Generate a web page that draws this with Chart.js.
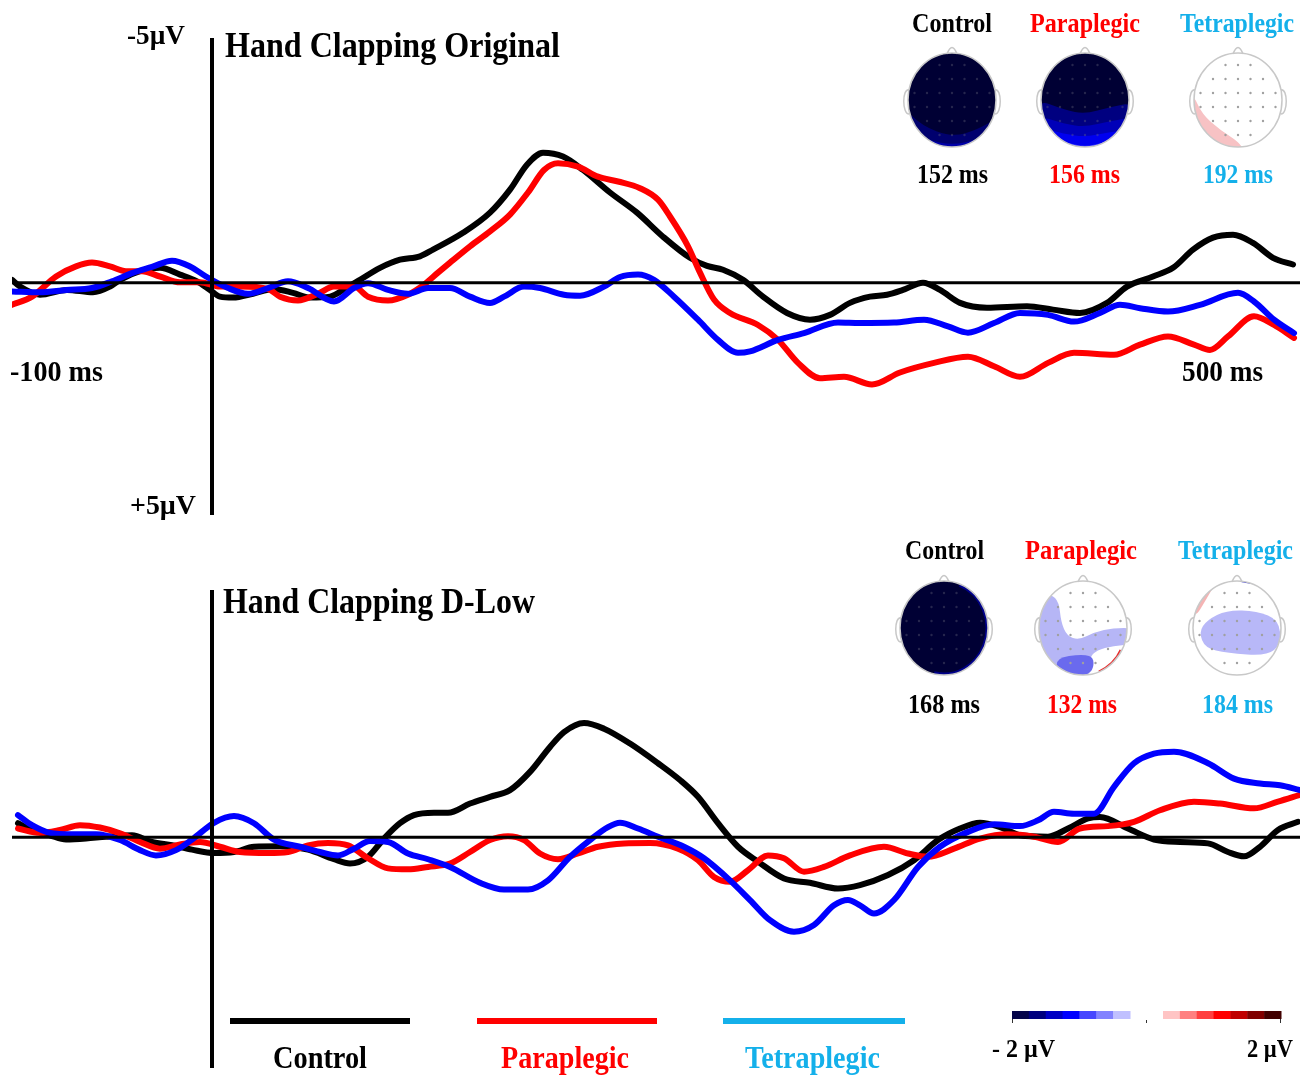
<!DOCTYPE html>
<html>
<head>
<meta charset="utf-8">
<script src="https://cdn.jsdelivr.net/npm/chart.js@4/dist/chart.umd.min.js"></script>
<style>
  body { margin: 0; background: #fff; }
  #wrap { position: relative; width: 1312px; height: 1078px; }
  canvas { position: absolute; left: 0; }
  #topChart { top: 0; }
  #bottomChart { top: 539px; }
</style>
</head>
<body>
<div id="wrap">
  <canvas id="topChart" width="1312" height="539"></canvas>
  <canvas id="bottomChart" width="1312" height="539"></canvas>
</div>
<script>
const groups = ["Control", "Paraplegic", "Tetraplegic"];
const lineColors = ["#000000", "#ff0000", "#0000ff"];
const textColors = ["#000000", "#ff0000", "#14b0ea"];
const origPeakMs = [152, 156, 192];
const lowPeakMs = [168, 132, 184];

// Hand Clapping Original (time in ms, amplitude in µV; negative is plotted up)
const origCtrlMs = [-100,-96,-86,-72.5,-59.5,-51,-46,-36,-26,-16,-7.5,-1,4,10.5,20.5,30.5,40.5,49,59,67.5,74,84,94,104,110.5,125.5,139,149,157.5,165.5,175.5,185.5,199,212.5,225.5,239,247.5,255.5,265.5,275.5,287.5,299,309,319,329,337.5,345.5,355.5,364,374,387.5,407.5,420.5,434,447.5,457.5,470.5,480.5,490.5,500.5,510.5,520.5,530.5,540.5];
const origCtrlUv = [-0.06,0.08,0.25,0.15,0.20,0.08,-0.06,-0.24,-0.31,-0.17,-0.03,0.15,0.29,0.31,0.23,0.13,0.21,0.31,0.29,0.10,-0.06,-0.31,-0.48,-0.55,-0.69,-1.04,-1.46,-1.94,-2.46,-2.71,-2.63,-2.35,-1.88,-1.46,-0.96,-0.52,-0.35,-0.27,-0.06,0.29,0.63,0.77,0.67,0.42,0.29,0.25,0.15,0.0,0.15,0.42,0.52,0.49,0.56,0.63,0.42,0.08,-0.13,-0.31,-0.69,-0.94,-1.0,-0.83,-0.52,-0.38];

const origParaMs = [-100,-90,-78,-68,-60,-51,-43,-35,-26,-16,-6,4,14,28,34,43,53,61,71,78,88,98,106,113,119,129,139,149,158,166,173,183,193,203,214,223,229,238,244,251,259,273,283,293,304,316,330,344,361,378,391,404,418,431,451,464,478,491,499,508,521,531,541];
const origParaUv = [0.46,0.29,-0.13,-0.34,-0.42,-0.34,-0.24,-0.24,-0.13,-0.01,-0.01,0.08,0.08,0.13,0.29,0.37,0.23,0.08,0.08,0.29,0.37,0.25,0.04,-0.21,-0.42,-0.76,-1.07,-1.42,-1.88,-2.35,-2.49,-2.42,-2.21,-2.11,-1.97,-1.73,-1.38,-0.76,-0.21,0.35,0.63,0.88,1.19,1.67,1.99,1.96,2.12,1.87,1.67,1.54,1.74,1.96,1.67,1.46,1.50,1.29,1.12,1.29,1.40,1.12,0.70,0.88,1.15];

const origTetraMs = [-100,-86,-73,-60,-50,-40,-30,-20,-11,-3,8,18,28,38,48,61,71,78,88,98,108,119,129,139,146,156,164,176,184,196,204,213,221,231,243,253,263,269,283,296,313,324,341,356,368,378,391,404,418,431,444,454,464,478,494,513,521,531,541];
const origTetraUv = [0.18,0.20,0.15,0.11,-0.03,-0.20,-0.33,-0.46,-0.34,-0.13,0.11,0.23,0.11,-0.03,0.11,0.39,0.11,0.01,0.15,0.23,0.11,0.11,0.29,0.42,0.29,0.08,0.11,0.25,0.27,0.08,-0.12,-0.17,-0.06,0.29,0.77,1.19,1.46,1.43,1.19,1.05,0.83,0.84,0.83,0.77,0.91,1.04,0.84,0.63,0.67,0.81,0.63,0.46,0.53,0.60,0.46,0.21,0.39,0.77,1.05];

// Hand Clapping D-Low
const lowCtrlMs = [-97,-90,-81,-73,-63,-53,-40,-30,-20,-10,1,11,21,34,48,61,69,78,86,94,101,111,118,129,139,149,159,169,176,186,196,209,223,234,243,253,263,273,286,299,313,324,338,351,363,374,384,394,404,418,428,438,444,458,471,484,498,508,516,524,533,543];
const lowCtrlUv = [-0.29,-0.15,-0.04,0.05,0.03,-0.01,-0.04,0.10,0.17,0.26,0.33,0.31,0.20,0.19,0.26,0.46,0.55,0.41,0.03,-0.29,-0.46,-0.51,-0.51,-0.70,-0.84,-0.98,-1.36,-1.88,-2.19,-2.38,-2.26,-1.95,-1.54,-1.19,-0.84,-0.29,0.20,0.51,0.86,0.95,1.07,1.0,0.79,0.48,0.06,-0.18,-0.30,-0.21,-0.04,-0.01,-0.18,-0.39,-0.42,-0.18,0.05,0.10,0.13,0.31,0.40,0.20,-0.15,-0.32];

const lowParaMs = [-97,-86,-76,-66,-56,-46,-36,-26,-16,-6,4,14,28,38,48,58,68,78,88,98,108,119,129,139,148,156,164,173,183,193,206,219,233,243,251,259,268,278,286,296,306,319,336,348,358,371,384,398,411,423,434,448,461,474,491,504,521,533,544];
const lowParaUv = [-0.18,-0.09,-0.15,-0.25,-0.20,-0.08,0.10,0.24,0.15,0.10,0.20,0.31,0.33,0.31,0.17,0.12,0.17,0.44,0.65,0.67,0.62,0.55,0.31,0.06,-0.02,0.06,0.34,0.46,0.34,0.20,0.13,0.12,0.24,0.48,0.83,0.93,0.69,0.38,0.44,0.72,0.62,0.38,0.20,0.34,0.41,0.24,0.03,-0.06,-0.01,0.10,-0.18,-0.23,-0.32,-0.56,-0.74,-0.70,-0.60,-0.74,-0.88];

const lowTetraMs = [-97,-90,-81,-70,-58,-46,-36,-28,-18,-10,1,11,21,31,44,54,63,71,79,88,98,108,119,134,146,158,168,179,189,198,204,213,223,236,246,259,269,279,291,301,311,318,324,331,341,353,364,378,391,404,413,421,431,441,451,461,471,481,498,511,524,534,544];
const lowTetraUv = [-0.46,-0.25,-0.09,-0.06,-0.06,0.06,0.27,0.38,0.27,0.05,-0.30,-0.44,-0.29,0.05,0.20,0.31,0.38,0.24,0.08,0.10,0.34,0.46,0.62,0.95,1.09,1.09,0.90,0.41,0.06,-0.21,-0.30,-0.18,-0.01,0.20,0.44,0.90,1.31,1.73,1.97,1.83,1.42,1.31,1.42,1.59,1.31,0.62,0.20,-0.11,-0.27,-0.23,-0.35,-0.53,-0.49,-0.49,-1.05,-1.54,-1.74,-1.78,-1.54,-1.22,-1.12,-1.08,-0.98];

const scaleLabels = ["- 2 µV", "2 µV"];
const blueSteps = ["#05054a", "#00007e", "#0000c4", "#0000ff", "#4646ff", "#8282ff", "#c0c0ff"];
const redSteps = ["#ffc4c4", "#ff8080", "#ff4040", "#ff0000", "#c00000", "#800000", "#420000"];

const FONT = '"Liberation Serif", "Times New Roman", serif';
const RX = 44, RY = 47;

function pts(ms, uv) {
  return ms.map((t, i) => ({ x: t, y: uv[i] }));
}

// bold serif text squeezed to fit between left and right, on a given baseline
function fitText(ctx, str, left, right, base, size, color) {
  ctx.save();
  ctx.font = `bold ${size}px ${FONT}`;
  const w = ctx.measureText(str).width;
  ctx.translate(left, base);
  ctx.scale((right - left) / w, 1);
  ctx.fillStyle = color;
  ctx.textBaseline = "alphabetic";
  ctx.textAlign = "left";
  ctx.fillText(str, 0, 0);
  ctx.restore();
}

function blob(ctx, cx, cy, color, p) {
  const n = p.length;
  ctx.beginPath();
  ctx.moveTo(cx + (p[n - 1][0] + p[0][0]) / 2, cy + (p[n - 1][1] + p[0][1]) / 2);
  for (let i = 0; i < n; i++) {
    const a = p[i], b = p[(i + 1) % n];
    ctx.quadraticCurveTo(cx + a[0], cy + a[1], cx + (a[0] + b[0]) / 2, cy + (a[1] + b[1]) / 2);
  }
  ctx.fillStyle = color;
  ctx.fill();
}

function drawHead(ctx, cx, cy, kind) {
  ctx.save();
  ctx.beginPath();
  ctx.ellipse(cx, cy, RX, RY, 0, 0, Math.PI * 2);
  ctx.clip();
  ctx.fillStyle = "#fff";
  ctx.fillRect(cx - RX, cy - RY, RX * 2, RY * 2);
  let dark = false;
  if (kind === "ctrlOrig") {
    dark = true;
    ctx.fillStyle = "#000034";
    ctx.fillRect(cx - RX, cy - RY, RX * 2, RY * 2);
    blob(ctx, cx, cy, "#00006e", [[-52, 4], [-30, 26], [0, 37], [25, 30], [52, 14], [52, 62], [-52, 62]]);
    blob(ctx, cx, cy, "#0000a8", [[-52, 24], [-25, 40], [0, 45], [25, 40], [52, 28], [52, 62], [-52, 62]]);
    blob(ctx, cx, cy, "#0a0ae6", [[-52, 38], [-20, 47], [0, 51], [20, 47], [52, 40], [52, 62], [-52, 62]]);
  } else if (kind === "paraOrig") {
    dark = true;
    ctx.fillStyle = "#000034";
    ctx.fillRect(cx - RX, cy - RY, RX * 2, RY * 2);
    blob(ctx, cx, cy, "#000080", [[-52, -2], [-20, 10], [0, 14], [25, 7], [52, 2], [52, 62], [-52, 62]]);
    blob(ctx, cx, cy, "#0000b8", [[-52, 14], [-20, 24], [0, 27], [25, 21], [52, 17], [52, 62], [-52, 62]]);
    blob(ctx, cx, cy, "#0000f0", [[-52, 26], [-20, 34], [0, 37], [25, 32], [52, 29], [52, 62], [-52, 62]]);
    blob(ctx, cx, cy, "#3a3aff", [[-52, 35], [-20, 42], [0, 47], [20, 42], [52, 37], [52, 62], [-52, 62]]);
    blob(ctx, cx, cy, "#a0a0ff", [[8, 47], [28, 38], [52, 32], [52, 62], [8, 62]]);
  } else if (kind === "tetraOrig") {
    blob(ctx, cx, cy, "#f7c2c4", [[-52, -8], [-44, -4], [-36, 14], [-18, 30], [4, 44], [10, 62], [-52, 62]]);
  } else if (kind === "ctrlLow") {
    dark = true;
    ctx.fillStyle = "#000034";
    ctx.fillRect(cx - RX, cy - RY, RX * 2, RY * 2);
    ctx.beginPath();
    ctx.ellipse(cx, cy, RX, RY, 0, -1.2, 1.8);
    ctx.strokeStyle = "#00008a";
    ctx.lineWidth = 5;
    ctx.stroke();
  } else if (kind === "paraLow") {
    blob(ctx, cx, cy, "#b6b6f6", [[-52, -34], [-32, -34], [-24, -26], [-22, -6], [-16, 8], [-4, 12], [12, 4], [30, 0], [52, 0], [52, 16], [30, 18], [14, 22], [6, 30], [8, 52], [-52, 52]]);
    blob(ctx, cx, cy, "#6a6aee", [[-28, 30], [0, 26], [12, 30], [8, 48], [-24, 48]]);
    ctx.beginPath();
    ctx.moveTo(cx + 38, cy + 22);
    ctx.quadraticCurveTo(cx + 32, cy + 36, cx + 16, cy + 44);
    ctx.strokeStyle = "#e83030";
    ctx.lineWidth = 3;
    ctx.stroke();
  } else if (kind === "tetraLow") {
    blob(ctx, cx, cy, "#b8b8f8", [[-30, -8], [-10, -18], [20, -17], [42, -8], [44, 16], [30, 28], [-10, 25], [-32, 20], [-38, 4]]);
    blob(ctx, cx, cy, "#f4b4b4", [[-46, -22], [-36, -38], [-22, -44], [-30, -30], [-42, -10]]);
    blob(ctx, cx, cy, "#3030d0", [[2, -50], [24, -48], [34, -40], [16, -44], [2, -46]]);
  }
  // electrode dots
  ctx.fillStyle = dark ? "rgba(110,110,130,0.35)" : "#a0a0a0";
  for (let dy = -35; dy <= 35; dy += 14) {
    for (let dx = -37.5; dx <= 37.5; dx += 12.5) {
      if ((dx / RX) ** 2 + (dy / RY) ** 2 < 0.8) {
        ctx.beginPath();
        ctx.arc(cx + dx, cy + dy, 1.2, 0, Math.PI * 2);
        ctx.fill();
      }
    }
  }
  ctx.restore();

  // outline, nose and ears
  ctx.save();
  ctx.strokeStyle = "#c8c8c8";
  ctx.lineWidth = 1.5;
  ctx.beginPath();
  ctx.moveTo(cx - 5, cy - RY + 1);
  ctx.quadraticCurveTo(cx, cy - RY - 12, cx + 5, cy - RY + 1);
  ctx.stroke();
  [-1, 1].forEach(s => {
    ctx.beginPath();
    ctx.moveTo(cx + s * (RX - 1), cy - 10);
    ctx.bezierCurveTo(cx + s * (RX + 6), cy - 12, cx + s * (RX + 6), cy + 14, cx + s * (RX - 1), cy + 14);
    ctx.stroke();
  });
  ctx.beginPath();
  ctx.ellipse(cx, cy, RX, RY, 0, 0, Math.PI * 2);
  ctx.stroke();
  ctx.restore();
}

const zeroAxes = {
  id: "zeroAxes",
  afterDatasetsDraw(chart) {
    const { ctx, chartArea: a, scales: { x, y } } = chart;
    ctx.save();
    ctx.strokeStyle = "#000";
    ctx.lineWidth = 3;
    const y0 = y.getPixelForValue(0);
    ctx.beginPath();
    ctx.moveTo(a.left, y0);
    ctx.lineTo(a.right, y0);
    ctx.stroke();
    ctx.lineWidth = 4;
    const x0 = x.getPixelForValue(0);
    ctx.beginPath();
    ctx.moveTo(x0, a.top);
    ctx.lineTo(x0, a.bottom);
    ctx.stroke();
    ctx.restore();
  }
};

function drawTopDecor(ctx) {
  fitText(ctx, "Hand Clapping Original", 225, 560, 57, 35, "#000");
  fitText(ctx, "-5µV", 127, 185, 44, 28, "#000");
  fitText(ctx, "+5µV", 130, 196, 514, 28, "#000");
  fitText(ctx, "-100 ms", 10, 103, 381, 30, "#000");
  fitText(ctx, "500 ms", 1182, 1263, 381, 30, "#000");
  const lx = [[912, 992], [1030, 1140], [1180, 1294]];
  const mx = [[917, 988], [1049, 1120], [1203, 1273]];
  const hx = [952, 1085, 1238];
  const kinds = ["ctrlOrig", "paraOrig", "tetraOrig"];
  groups.forEach((g, i) => {
    fitText(ctx, g, lx[i][0], lx[i][1], 32, 27, textColors[i]);
    drawHead(ctx, hx[i], 100, kinds[i]);
    fitText(ctx, origPeakMs[i] + " ms", mx[i][0], mx[i][1], 183, 27, textColors[i]);
  });
}

function drawBottomDecor(ctx) {
  ctx.save();
  ctx.translate(0, -539);
  fitText(ctx, "Hand Clapping D-Low", 223, 535, 613, 35, "#000");
  const lx = [[905, 984], [1025, 1137], [1178, 1293]];
  const mx = [[908, 980], [1047, 1117], [1202, 1273]];
  const hx = [944, 1083, 1237];
  const kinds = ["ctrlLow", "paraLow", "tetraLow"];
  groups.forEach((g, i) => {
    fitText(ctx, g, lx[i][0], lx[i][1], 559, 27, textColors[i]);
    drawHead(ctx, hx[i], 628, kinds[i]);
    fitText(ctx, lowPeakMs[i] + " ms", mx[i][0], mx[i][1], 713, 27, textColors[i]);
  });

  // legend
  const legLines = [[230, 410], [477, 657], [723, 905]];
  const legText = [[273, 367], [501, 629], [745, 880]];
  const legColors = ["#000000", "#ff0000", "#14b0ea"];
  groups.forEach((g, i) => {
    ctx.beginPath();
    ctx.moveTo(legLines[i][0], 1021);
    ctx.lineTo(legLines[i][1], 1021);
    ctx.strokeStyle = legColors[i];
    ctx.lineWidth = 6;
    ctx.stroke();
    fitText(ctx, g, legText[i][0], legText[i][1], 1068, 31, textColors[i]);
  });

  // colour scale
  const segW = (1130 - 1012) / blueSteps.length;
  blueSteps.forEach((c, i) => {
    ctx.fillStyle = c;
    ctx.fillRect(1012 + i * segW, 1011, segW + 0.5, 8);
  });
  redSteps.forEach((c, i) => {
    ctx.fillStyle = c;
    ctx.fillRect(1163 + i * segW, 1011, segW + 0.5, 8);
  });
  ctx.strokeStyle = "#333";
  ctx.lineWidth = 1;
  ctx.beginPath();
  ctx.moveTo(1012.5, 1019); ctx.lineTo(1012.5, 1023);
  ctx.moveTo(1280.5, 1019); ctx.lineTo(1280.5, 1023);
  ctx.moveTo(1146.5, 1020); ctx.lineTo(1146.5, 1023);
  ctx.stroke();
  fitText(ctx, scaleLabels[0], 992, 1055, 1057, 26, "#000");
  fitText(ctx, scaleLabels[1], 1247, 1293, 1057, 26, "#000");
  ctx.restore();
}

function makeChart(id, series, yMin, yMax, padding, decor) {
  return new Chart(document.getElementById(id), {
    type: "line",
    data: {
      datasets: series.map((s, i) => ({
        label: groups[i],
        data: pts(s[0], s[1]),
        borderColor: lineColors[i],
        borderWidth: 6,
        order: 2 - i,
        pointRadius: 0,
        fill: false,
        cubicInterpolationMode: "monotone",
        borderCapStyle: "round",
        borderJoinStyle: "round"
      }))
    },
    options: {
      responsive: false,
      animation: false,
      devicePixelRatio: 1,
      layout: { padding },
      scales: {
        x: { type: "linear", min: -100, max: 544, display: false },
        y: { min: yMin, max: yMax, reverse: true, display: false }
      },
      plugins: { legend: { display: false }, tooltip: { enabled: false } }
    },
    plugins: [zeroAxes, { id: "decor", afterDraw: c => decor(c.ctx) }]
  });
}

makeChart("topChart",
  [[origCtrlMs, origCtrlUv], [origParaMs, origParaUv], [origTetraMs, origTetraUv]],
  -5.1, 4.84, { left: 12, right: 12, top: 38, bottom: 24 }, drawTopDecor);

makeChart("bottomChart",
  [[lowCtrlMs, lowCtrlUv], [lowParaMs, lowParaUv], [lowTetraMs, lowTetraUv]],
  -5.15, 4.81, { left: 12, right: 12, top: 51, bottom: 10 }, drawBottomDecor);
</script>
</body>
</html>
